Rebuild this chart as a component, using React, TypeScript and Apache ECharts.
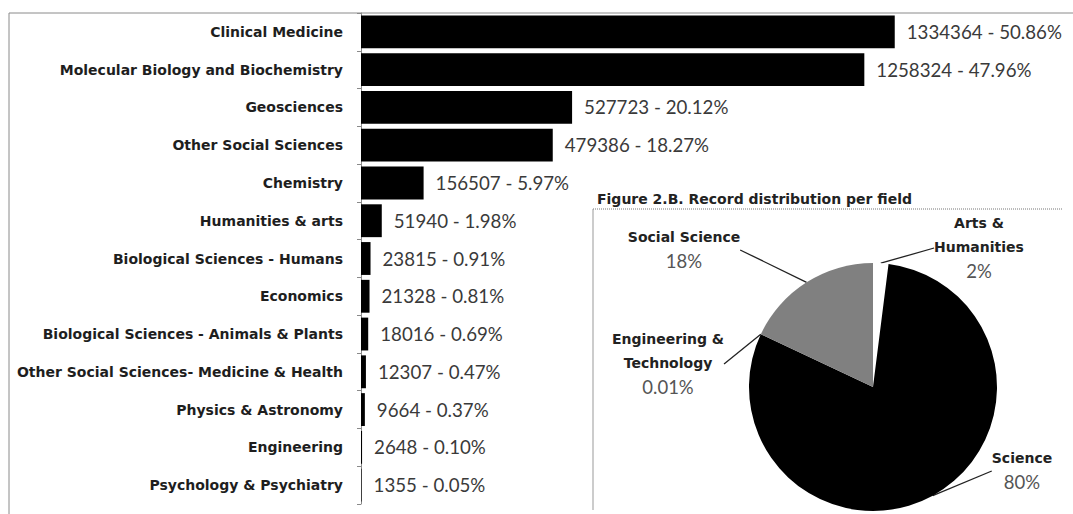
import React, { useEffect, useRef } from "react";
import * as echarts from "echarts";

const categories = [
  "Clinical Medicine",
  "Molecular Biology and Biochemistry",
  "Geosciences",
  "Other Social Sciences",
  "Chemistry",
  "Humanities & arts",
  "Biological Sciences - Humans",
  "Economics",
  "Biological Sciences - Animals & Plants",
  "Other Social Sciences- Medicine & Health",
  "Physics & Astronomy",
  "Engineering",
  "Psychology & Psychiatry",
];
const recordCounts = [1334364, 1258324, 527723, 479386, 156507, 51940, 23815, 21328, 18016, 12307, 9664, 2648, 1355];
const recordShares = ["50.86", "47.96", "20.12", "18.27", "5.97", "1.98", "0.91", "0.81", "0.69", "0.47", "0.37", "0.10", "0.05"];

const fieldNames = ["Arts & Humanities", "Science", "Engineering & Technology", "Social Science"];
const fieldLabelNames = ["Arts &\nHumanities", "Science", "Engineering &\nTechnology", "Social Science"];
const fieldShares = [2, 80, 0.01, 18];
const fieldShareLabels = ["2%", "80%", "0.01%", "18%"];

const pieTitle = "Figure 2.B. Record distribution per field";

// layout only (label anchor positions for the pie labels)
const pieLabelPos = [
  [979, 247],
  [1022, 470],
  [668, 363],
  [684, 249],
];
const sliceColors = ["#ffffff", "#000000", "#000000", "#808080"];

const BOLD_FONT = "'DejaVu Sans', sans-serif";
const NUM_FONT = "Lato, 'Open Sans', sans-serif";

export default function App() {
  const ref = useRef<HTMLDivElement>(null);
  useEffect(() => {
    document.body.style.margin = "0";
    const chart = echarts.init(ref.current!, null, { renderer: "svg" });
    chart.setOption({
      animation: false,
      textStyle: { fontFamily: NUM_FONT },
      title: {
        text: pieTitle,
        left: 592,
        top: 187,
        textStyle: { fontSize: 14, fontWeight: "bold", color: "#222", fontFamily: BOLD_FONT },
      },
      grid: { left: 361, top: 13, width: 712, height: 491 },
      xAxis: { type: "value", min: 0, max: 1780000, show: false },
      yAxis: {
        type: "category",
        inverse: true,
        data: categories,
        axisLine: { lineStyle: { color: "#8a8a8a", width: 1 } },
        axisTick: { show: true, length: 4, lineStyle: { color: "#8a8a8a" } },
        axisLabel: { fontSize: 14, fontWeight: "bold", color: "#1e1e1e", margin: 18, fontFamily: BOLD_FONT },
        splitLine: { show: false },
      },
      series: [
        {
          type: "bar",
          data: recordCounts,
          barCategoryGap: "13%",
          itemStyle: { color: "#000" },
          label: {
            show: true,
            position: "right",
            distance: 12,
            fontSize: 18.7,
            color: "#3a3a3a",
            fontFamily: NUM_FONT,
            formatter: (p: any) => `${recordCounts[p.dataIndex]} - ${recordShares[p.dataIndex]}%`,
          },
        },
        {
          type: "pie",
          center: [873, 387],
          radius: 124,
          startAngle: 90,
          clockwise: true,
          data: fieldNames.map((n, i) => ({ name: n, value: fieldShares[i], itemStyle: { color: sliceColors[i] } })),
          label: {
            show: true,
            position: "outside",
            formatter: (p: any) => `{n|${fieldLabelNames[p.dataIndex]}}\n{p|${fieldShareLabels[p.dataIndex]}}`,
            rich: {
              n: { fontSize: 14, fontWeight: "bold", color: "#222", lineHeight: 24, align: "center", fontFamily: BOLD_FONT },
              p: { fontSize: 18.5, color: "#555", lineHeight: 25, align: "center", fontFamily: NUM_FONT },
            },
          },
          labelLine: { show: true, length: 30, length2: 0, lineStyle: { color: "#222", width: 1.3 } },
          labelLayout: (params: any) => {
            const pos = pieLabelPos[params.dataIndex];
            return { x: pos[0], y: pos[1], align: "center", verticalAlign: "middle" };
          },
          emphasis: { disabled: true },
        },
      ],
      graphic: [
        { type: "line", shape: { x1: 9, y1: 13, x2: 1073, y2: 13 }, style: { stroke: "#8a8a8a", lineWidth: 1 } },
        { type: "line", shape: { x1: 9, y1: 13, x2: 9, y2: 514 }, style: { stroke: "#8a8a8a", lineWidth: 1 } },
        { type: "line", shape: { x1: 593, y1: 209, x2: 1063, y2: 209 }, style: { stroke: "#777", lineWidth: 1, lineDash: [1, 1] } },
        { type: "line", shape: { x1: 593, y1: 209, x2: 593, y2: 510 }, style: { stroke: "#999", lineWidth: 1 } },
      ],
    });
    return () => chart.dispose();
  }, []);
  return <div ref={ref} style={{ width: 1073, height: 514 }} />;
}
